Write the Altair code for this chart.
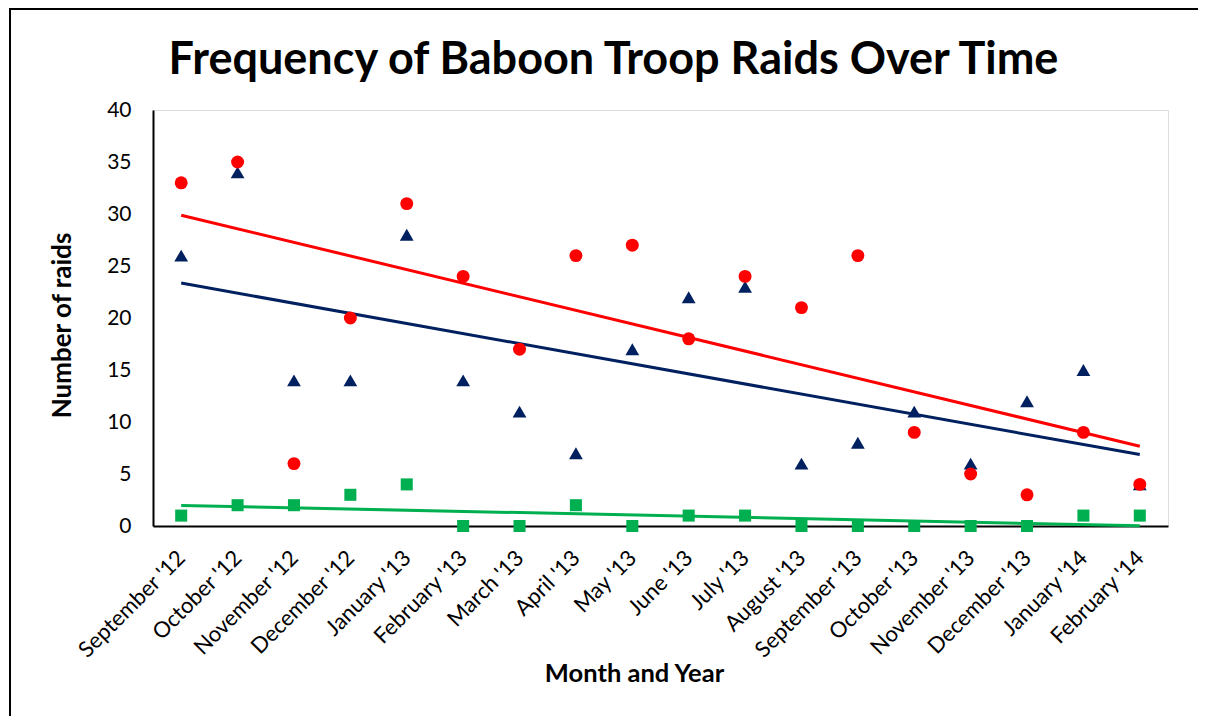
import altair as alt
import pandas as pd

months = ["September '12", "October '12", "November '12", "December '12",
          "January '13", "February '13", "March '13", "April '13", "May '13",
          "June '13", "July '13", "August '13", "September '13", "October '13",
          "November '13", "December '13", "January '14", "February '14"]
urban = [26, 34, 14, 14, 28, 14, 11, 7, 17, 22, 23, 6, 8, 11, 6, 12, 15, 4]
bin_raids = [33, 35, 6, 20, 31, 24, 17, 26, 27, 18, 24, 21, 26, 9, 5, 3, 9, 4]
assertive = [1, 2, 2, 3, 4, 0, 0, 2, 0, 1, 1, 0, 0, 0, 0, 0, 1, 1]

series_names = ["In urban area", "Bin Raids", "Assertive Raids"]
colors = ["#002060", "#FF0000", "#00B050"]
shapes = ["triangle-up", "circle", "square"]
marker_sizes = [190, 145, 180]

rows = []
for name, vals in zip(series_names, [urban, bin_raids, assertive]):
    for i, (m, v) in enumerate(zip(months, vals)):
        rows.append({"idx": i, "month": m, "series": name, "value": v})
df = pd.DataFrame(rows)

FONT = "Lato"
label_js = "[" + ",".join('"' + m.replace("'", "\\'") + '"' for m in months) + "]"

x_enc = alt.X("idx:Q",
              scale=alt.Scale(domain=[-0.5, 17.5], nice=False, zero=False),
              axis=alt.Axis(values=list(range(len(months))),
                            labelExpr=label_js + "[datum.value]",
                            title="Month and Year", labelAngle=-45,
                            labelAlign="right", labelBaseline="middle",
                            labelPadding=28, ticks=False, grid=False,
                            domainColor="#000000", domainWidth=2,
                            labelFont=FONT, labelFontSize=22, labelColor="#000000",
                            titleFont=FONT, titleFontSize=25.5, titleFontWeight="bold",
                            titleColor="#000000", titlePadding=0, titleX=481,
                            labelOverlap=False, labelBound=False, labelFlush=False))
y_enc = alt.Y("value:Q",
              scale=alt.Scale(domain=[0, 40], nice=False),
              axis=alt.Axis(values=[0, 5, 10, 15, 20, 25, 30, 35, 40],
                            title="Number of raids", ticks=False, grid=False,
                            domainColor="#000000", domainWidth=2,
                            labelPadding=22, labelFont=FONT, labelFontSize=21,
                            labelColor="#000000",
                            titleFont=FONT, titleFontSize=26, titleFontWeight="bold",
                            titleColor="#000000", titlePadding=31, titleY=215))

frame_df = pd.DataFrame({"a": [0]})
frame_left = alt.Chart(frame_df).mark_rule(color="#000000", strokeWidth=2).encode(
    x=alt.value(-143), y=alt.value(-102), y2=alt.value(700))
frame_top = alt.Chart(frame_df).mark_rule(color="#000000", strokeWidth=2).encode(
    x=alt.value(-144), x2=alt.value(1045), y=alt.value(-101))

lines = alt.Chart(df).transform_regression(
    "idx", "value", groupby=["series"]
).mark_line(strokeWidth=3).encode(
    x=x_enc, y=y_enc,
    stroke=alt.Stroke("series:N", scale=alt.Scale(domain=series_names, range=colors),
                      legend=None),
)

points = alt.Chart(df).mark_point(filled=True, opacity=1).encode(
    x=x_enc, y=y_enc,
    color=alt.Color("series:N", scale=alt.Scale(domain=series_names, range=colors),
                    title=None,
                    legend=alt.Legend(orient="none", legendX=833, legendY=30,
                                      labelFont=FONT, labelFontSize=20,
                                      labelColor="#000000", symbolSize=150,
                                      rowPadding=25, labelOffset=9)),
    shape=alt.Shape("series:N", scale=alt.Scale(domain=series_names, range=shapes),
                    title=None),
    size=alt.Size("series:N", scale=alt.Scale(domain=series_names, range=marker_sizes),
                  legend=None),
)

chart = alt.layer(frame_left, frame_top, lines, points).properties(
    width=1015, height=416,
    title=alt.Title("Frequency of Baboon Troop Raids Over Time", font=FONT,
                    fontSize=45, fontWeight="bold", color="#000000",
                    anchor="middle", dx=-47, dy=106, offset=30),
    padding={"left": 145, "top": 102, "right": 30, "bottom": 190},
    autosize=alt.AutoSizeParams(type="none"),
).configure_view(stroke=None).configure(background="#FFFFFF")

chart.save("out.html", embed_options={"renderer": "svg", "actions": False})
